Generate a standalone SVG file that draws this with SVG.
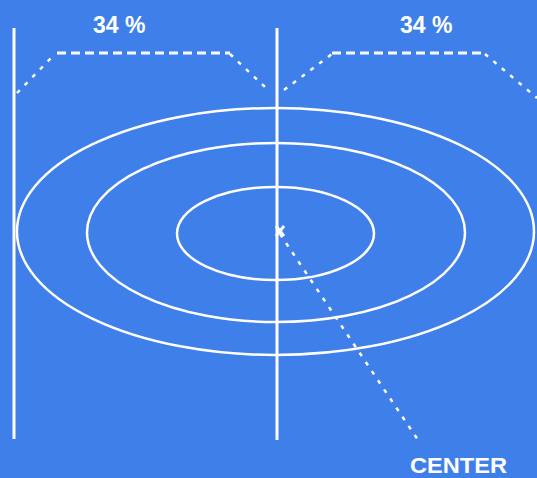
<svg xmlns="http://www.w3.org/2000/svg" width="537" height="478" viewBox="0 0 537 478">
<style>
.ln{stroke:#fff;fill:none;stroke-width:3}
.el{stroke:#fff;fill:none;stroke-width:2.5}
.dh{stroke:#fff;fill:none;stroke-width:3;stroke-dasharray:9 5}
.ds{stroke:#fff;fill:none;stroke-width:2.5;stroke-dasharray:4 7}
.t{fill:#fff;font-family:"Liberation Sans",Arial,sans-serif}
.b{font-weight:bold}
</style>
<rect x="0" y="0" width="537" height="478" fill="#3f7fea"/>
<g id="connectors">
<line class="ln" x1="14" y1="28" x2="14" y2="439"/>
<line class="ln" x1="277" y1="28" x2="277" y2="440"/>
<polyline class="ds" points="17,93 55,54"/>
<line class="dh" x1="57" y1="53" x2="230" y2="53"/>
<polyline class="ds" points="230,54 266,88"/>
<polyline class="ds" points="284,90 332,54"/>
<line class="dh" x1="332" y1="53" x2="485" y2="53"/>
<polyline class="ds" points="485,54 537,98"/>
<line class="ds" x1="280" y1="234" x2="418" y2="440"/>
</g>
<g id="outer"><ellipse class="el" cx="275.5" cy="231.5" rx="258.5" ry="123.5"/></g>
<g id="middle"><ellipse class="el" cx="276" cy="232.5" rx="189" ry="89.5"/></g>
<g id="inner"><ellipse class="el" cx="275.5" cy="233.5" rx="98.5" ry="46.5"/></g>
<g id="center-mark"><path class="ln" d="M276,226 L284,236 M284,226 L276,236" stroke-width="2.5"/></g>
<g id="label-left"><text class="t b" x="93" y="33" font-size="23">34 %</text></g>
<g id="label-right"><text class="t b" x="400" y="33" font-size="23">34 %</text></g>
<g id="label-center"><text class="t b" x="410" y="473" font-size="22" textLength="97" lengthAdjust="spacingAndGlyphs">CENTER</text></g>
</svg>
